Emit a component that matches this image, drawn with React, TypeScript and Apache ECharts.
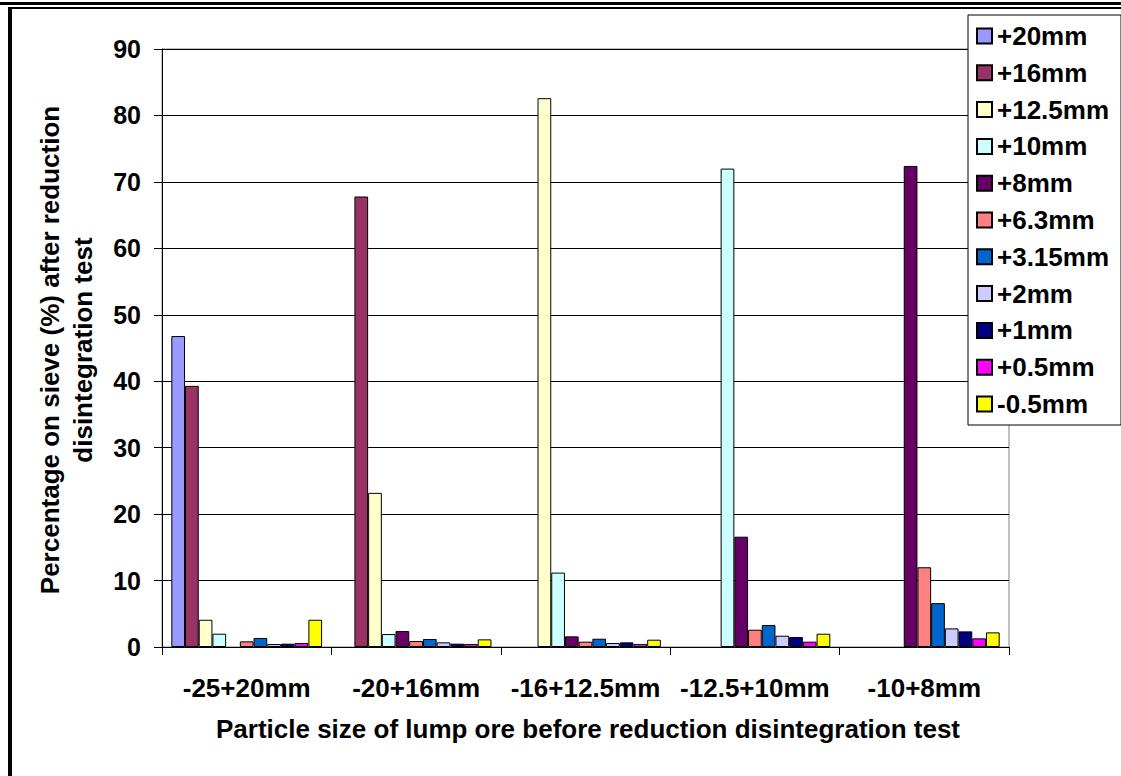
import React, { useEffect, useRef } from "react";
import * as echarts from "echarts";

const categories = ["-25+20mm", "-20+16mm", "-16+12.5mm", "-12.5+10mm", "-10+8mm"];
const yTicks = [0, 10, 20, 30, 40, 50, 60, 70, 80, 90];

const s20 = [46.8, 0, 0, 0, 0];
const s16 = [39.3, 67.8, 0, 0, 0];
const s12_5 = [4.1, 23.2, 82.6, 0, 0];
const s10 = [2.0, 1.95, 11.2, 72.0, 0];
const s8 = [0, 2.4, 1.6, 16.6, 72.4];
const s6_3 = [0.85, 0.9, 0.8, 2.6, 12.0];
const s3_15 = [1.35, 1.2, 1.25, 3.3, 6.6];
const s2 = [0.45, 0.7, 0.6, 1.7, 2.8];
const s1 = [0.5, 0.5, 0.7, 1.5, 2.35];
const s0_5 = [0.6, 0.45, 0.45, 0.8, 1.3];
const sMinus0_5 = [4.1, 1.15, 1.1, 2.0, 2.2];

const seriesNames = ["+20mm", "+16mm", "+12.5mm", "+10mm", "+8mm", "+6.3mm", "+3.15mm", "+2mm", "+1mm", "+0.5mm", "-0.5mm"];
const seriesData = [s20, s16, s12_5, s10, s8, s6_3, s3_15, s2, s1, s0_5, sMinus0_5];
const seriesColors = ["#9999FF", "#993366", "#FFFFCC", "#CCFFFF", "#660066", "#FF8080", "#0066CC", "#CCCCFF", "#000080", "#FF00FF", "#FFFF00"];

const xTitle = "Particle size of lump ore before reduction disintegration test";
const yTitle = "Percentage on sieve (%) after reduction\ndisintegration test";

const FONT = "'Liberation Sans', Arial, sans-serif";

export default function App() {
  const ref = useRef<HTMLDivElement>(null);
  useEffect(() => {
    if (!ref.current) return;
    const chart = echarts.init(ref.current, null, { renderer: "svg" });
    chart.setOption({
      animation: false,
      backgroundColor: "#ffffff",
      textStyle: { fontFamily: FONT },
      grid: {
        left: 162,
        right: 112,
        top: 49,
        bottom: 129,
        show: true,
        borderColor: "#808080",
        borderWidth: 1,
        backgroundColor: "transparent",
      },
      legend: {
        orient: "vertical",
        left: 968,
        top: 15,
        padding: [8, 12, 8, 8],
        itemWidth: 15,
        itemHeight: 15,
        itemGap: 10.8,
        icon: "rect",
        backgroundColor: "#ffffff",
        borderColor: "#000000",
        borderWidth: 1,
        textStyle: { fontFamily: FONT, fontWeight: "bold", fontSize: 26, lineHeight: 26, color: "#000" },
        data: seriesNames,
      },
      xAxis: {
        type: "category",
        data: categories,
        axisLine: { lineStyle: { color: "#000", width: 1 } },
        axisTick: { show: true, length: 8, lineStyle: { color: "#000" } },
        axisLabel: { interval: 0, margin: 28, fontFamily: FONT, fontWeight: "bold", fontSize: 26, color: "#000" },
        splitLine: { show: false },
      },
      yAxis: {
        type: "value",
        min: yTicks[0],
        max: yTicks[yTicks.length - 1],
        interval: 10,
        axisLine: { show: true, lineStyle: { color: "#000", width: 1 } },
        axisTick: { show: true, length: 8, lineStyle: { color: "#000" } },
        axisLabel: { margin: 21, fontFamily: FONT, fontWeight: "bold", fontSize: 25, color: "#000" },
        splitLine: { show: true, lineStyle: { color: "#000", width: 1 } },
      },
      series: seriesNames.map((name, i) => ({
        name,
        type: "bar",
        data: seriesData[i].map((v) => (v === 0 ? "-" : v)),
        barGap: "0%",
        barCategoryGap: "11%",
        itemStyle: { color: seriesColors[i], borderColor: "#000", borderWidth: 1 },
      })),
      graphic: [
        { type: "rect", shape: { x: 0, y: 2, width: 1121, height: 3 }, style: { fill: "#000" } },
        { type: "rect", shape: { x: 8, y: 7, width: 1113, height: 2 }, style: { fill: "#000" } },
        { type: "rect", shape: { x: 8, y: 7, width: 4, height: 769 }, style: { fill: "#000" } },
        {
          type: "text",
          x: 588,
          y: 729,
          style: { text: xTitle, font: `bold 26px ${FONT}`, fill: "#000", align: "center", verticalAlign: "middle" },
        },
        {
          type: "text",
          x: 66,
          y: 350,
          rotation: Math.PI / 2,
          style: { text: yTitle, font: `bold 26px ${FONT}`, lineHeight: 33, fill: "#000", align: "center", verticalAlign: "middle" },
        },
      ],
    });
    return () => chart.dispose();
  }, []);
  return <div ref={ref} style={{ position: "fixed", left: 0, top: 0, width: 1121, height: 776 }} />;
}
